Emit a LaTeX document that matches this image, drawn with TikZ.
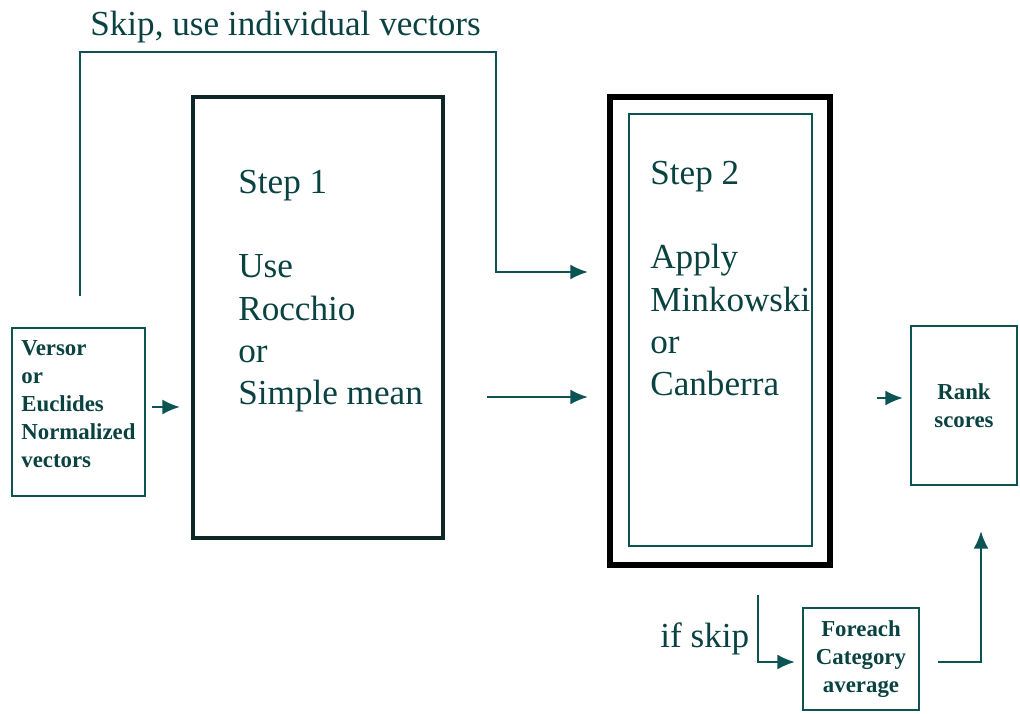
\documentclass[tikz,border=0pt]{standalone}
\usepackage{fontspec}
\setmainfont{Liberation Serif}
\usepackage{tikz}
\usetikzlibrary{arrows.meta,positioning}

\definecolor{ink}{RGB}{12,84,84}
\definecolor{textink}{RGB}{10,66,66}
\definecolor{darkink}{RGB}{14,38,38}

\begin{document}
\begin{tikzpicture}[x=0.02cm, y=-0.02cm,
    box/.style={draw=ink, line width=1.3pt, inner sep=0pt, outer sep=0pt},
    bigtxt/.style={text=textink, inner sep=0pt, align=left, font=\fontsize{20}{24}\selectfont},
    smalltxt/.style={text=textink, inner sep=0pt, align=center, font=\fontsize{13}{16}\selectfont\bfseries},
    line/.style={draw=ink, line width=1.3pt},
    arr/.style={line, -{Latex[length=10pt,width=8.5pt]}}]
    \useasboundingbox (0,0) rectangle (1020,713);

    % boxes
    \node[box, minimum width=2.66cm, minimum height=3.36cm] (vec) at (78.5,412) {};
    \node[box, draw=darkink, line width=2.3pt, minimum width=5cm, minimum height=8.82cm] (step1) at (318,317.5) {};
    \node[box, draw=black, line width=3.4pt, minimum width=4.4cm, minimum height=9.36cm] (step2) at (720,331) {};
    \node[box, minimum width=3.66cm, minimum height=8.64cm] (step2in) at (720.5,330) {};
    \node[box, smalltxt, minimum width=2.12cm, minimum height=3.18cm] (rank) at (964,405.5) {Rank\\scores};
    \node[box, smalltxt, minimum width=2.32cm, minimum height=2.04cm] (avg) at (861,659) {Foreach\\Category\\average};

    % texts
    \node[smalltxt, align=left, anchor=west] (vectxt) at (21,404) {Versor\\or\\Euclides\\Normalized\\vectors};
    \node[bigtxt, anchor=north west] (s1txt) at (238,170) {Step 1\\[24pt]Use\\Rocchio\\or\\Simple mean};
    \node[bigtxt, anchor=north west] (s2txt) at (650,161) {Step 2\\[24pt]Apply\\Minkowski\\or\\Canberra};
    \node[bigtxt, anchor=base west] (skiplbl) at (90,36) {Skip, use individual vectors};
    \node[bigtxt, anchor=base west] (iflbl) at (660,647) {if skip};

    % free ends of the arrows
    \coordinate (skip0) at (80,296);
    \coordinate (skipturn) at (496,52);
    \coordinate (skipend) at (588,272);
    \coordinate (a1s) at (152,407);
    \coordinate (a1e) at (180,407);
    \coordinate (a2s) at (487,397);
    \coordinate (a2e) at (588,397);
    \coordinate (a3s) at (877,398);
    \coordinate (a3e) at (903,398);
    \coordinate (if0) at (758,595);
    \coordinate (ifend) at (795,662);
    \coordinate (avgout) at (938,662);
    \coordinate (rankin) at (981,531);

    % connectors
    \draw[arr] (skip0) |- (skipturn) |- (skipend);
    \draw[arr] (a1s) -- (a1e);
    \draw[arr] (a2s) -- (a2e);
    \draw[arr] (a3s) -- (a3e);
    \draw[arr] (if0) |- (ifend);
    \draw[arr] (avgout) -| (rankin);
\end{tikzpicture}
\end{document}
